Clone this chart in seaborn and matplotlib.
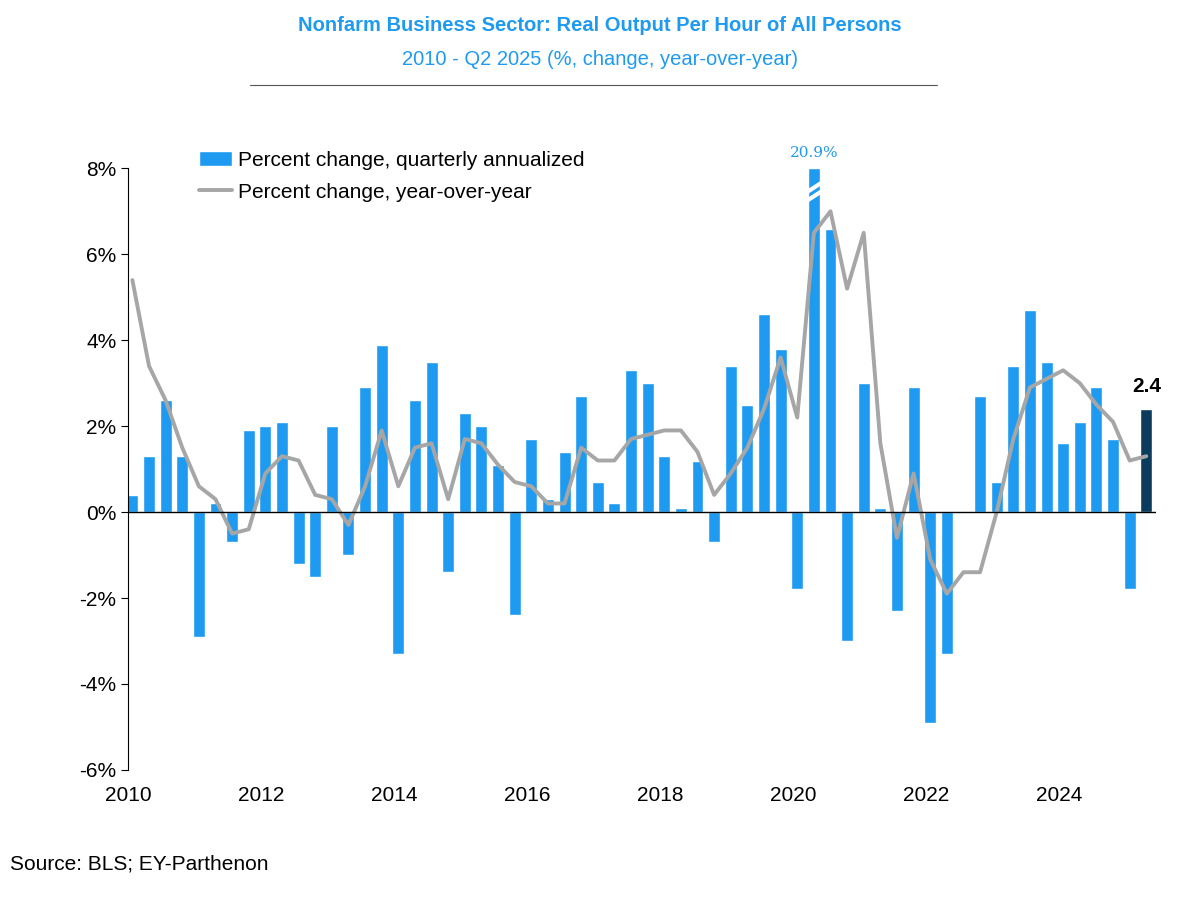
import numpy as np
import pandas as pd
import matplotlib
matplotlib.use("Agg")
import matplotlib.pyplot as plt
import seaborn as sns

# %% data
quarterly = [0.4, 1.3, 2.6, 1.3, -2.9, 0.2, -0.7, 1.9, 2.0, 2.1,
             -1.2, -1.5, 2.0, -1.0, 2.9, 3.9, -3.3, 2.6, 3.5, -1.4,
             2.3, 2.0, 1.1, -2.4, 1.7, 0.3, 1.4, 2.7, 0.7, 0.2,
             3.3, 3.0, 1.3, 0.1, 1.2, -0.7, 3.4, 2.5, 4.6, 3.8,
             -1.8, 20.9, 6.6, -3.0, 3.0, 0.1, -2.3, 2.9, -4.9, -3.3,
             0.0, 2.7, 0.7, 3.4, 4.7, 3.5, 1.6, 2.1, 2.9, 1.7,
             -1.8, 2.4]
yoy = [5.4, 3.4, 2.6, 1.5, 0.6, 0.3, -0.5, -0.4, 0.9, 1.3,
       1.2, 0.4, 0.3, -0.3, 0.6, 1.9, 0.6, 1.5, 1.6, 0.3,
       1.7, 1.6, 1.1, 0.7, 0.6, 0.2, 0.2, 1.5, 1.2, 1.2,
       1.7, 1.8, 1.9, 1.9, 1.4, 0.4, 0.9, 1.5, 2.4, 3.6,
       2.2, 6.5, 7.0, 5.2, 6.5, 1.6, -0.6, 0.9, -1.1, -1.9,
       -1.4, -1.4, 0.0, 1.7, 2.9, 3.1, 3.3, 3.0, 2.5, 2.1,
       1.2, 1.3]
years = [2010, 2012, 2014, 2016, 2018, 2020, 2022, 2024]

blue = "#1e9bf0"
navy = "#0b3c5d"
cap = 8.0

x = 2010.06 + np.arange(len(quarterly)) / 4
df = pd.DataFrame({"x": x, "bar": np.minimum(quarterly, cap), "yoy": yoy})

# %% plot
sns.set_style("white")
plt.rcParams["font.family"] = ["Liberation Sans", "DejaVu Sans"]
plt.rcParams["text.color"] = "black"
plt.rcParams["xtick.color"] = "black"
plt.rcParams["ytick.color"] = "black"

fig = plt.figure(figsize=(12, 9.1), dpi=100)
ax = fig.add_axes([0.107, 0.154, 0.856, 0.661])

sns.barplot(data=df, x="x", y="bar", native_scale=True, width=0.72,
            color=blue, saturation=1, ax=ax, label="Percent change, quarterly annualized")
ax.patches[-1].set_facecolor(navy)
sns.lineplot(data=df, x="x", y="yoy", color="#a6a6a6", lw=2.8, ax=ax,
             label="Percent change, year-over-year")

# break marks on capped bar
i_big = int(np.argmax(quarterly))
xb = x[i_big]
for yb in (7.35, 7.55):
    ax.plot([xb - 0.1, xb + 0.1], [yb - 0.1, yb + 0.1], color="white", lw=3, zorder=5)
ax.text(xb, 8.2, f"{quarterly[i_big]}%", color=blue, ha="center", va="bottom",
        fontsize=11, family="DejaVu Serif")
ax.text(x[-1], quarterly[-1] + 0.3, f"{quarterly[-1]}", ha="center", va="bottom",
        fontsize=15, fontweight="bold")

ax.axhline(0, color="black", lw=1)
ax.set_xlim(2010, 2025.45)
ax.set_ylim(-6, 8)
ax.set_xticks(years)
ax.set_xticklabels([str(y) for y in years], fontsize=15)
ax.set_yticks(range(-6, 9, 2))
ax.set_yticklabels([f"{v}%" for v in range(-6, 9, 2)], fontsize=15)
ax.tick_params(axis="y", length=5, color="black", direction="out", left=True)
ax.tick_params(axis="x", pad=8)
ax.set_xlabel("")
ax.set_ylabel("")
for s in ["top", "right", "bottom"]:
    ax.spines[s].set_visible(False)
ax.spines["left"].set_color("black")

h, l = ax.get_legend_handles_labels()
order = [l.index("Percent change, quarterly annualized"), l.index("Percent change, year-over-year")]
ax.legend([h[i] for i in order], [l[i] for i in order], loc="upper left",
          bbox_to_anchor=(0.05, 1.06), frameon=False,
          fontsize=15, handlelength=1.6, handletextpad=0.3, labelspacing=0.6)

fig.text(0.5, 0.972, "Nonfarm Business Sector: Real Output Per Hour of All Persons",
         ha="center", va="center", color=blue, fontsize=14.5, fontweight="bold")
fig.text(0.5, 0.935, "2010 - Q2 2025 (%, change, year-over-year)",
         ha="center", va="center", color=blue, fontsize=14.5)
fig.add_artist(plt.Line2D([0.208, 0.781], [0.907, 0.907], color="#555555", lw=0.8))
fig.text(0.008, 0.045, "Source: BLS; EY-Parthenon", fontsize=15)

fig.savefig("out.png", dpi=100)
